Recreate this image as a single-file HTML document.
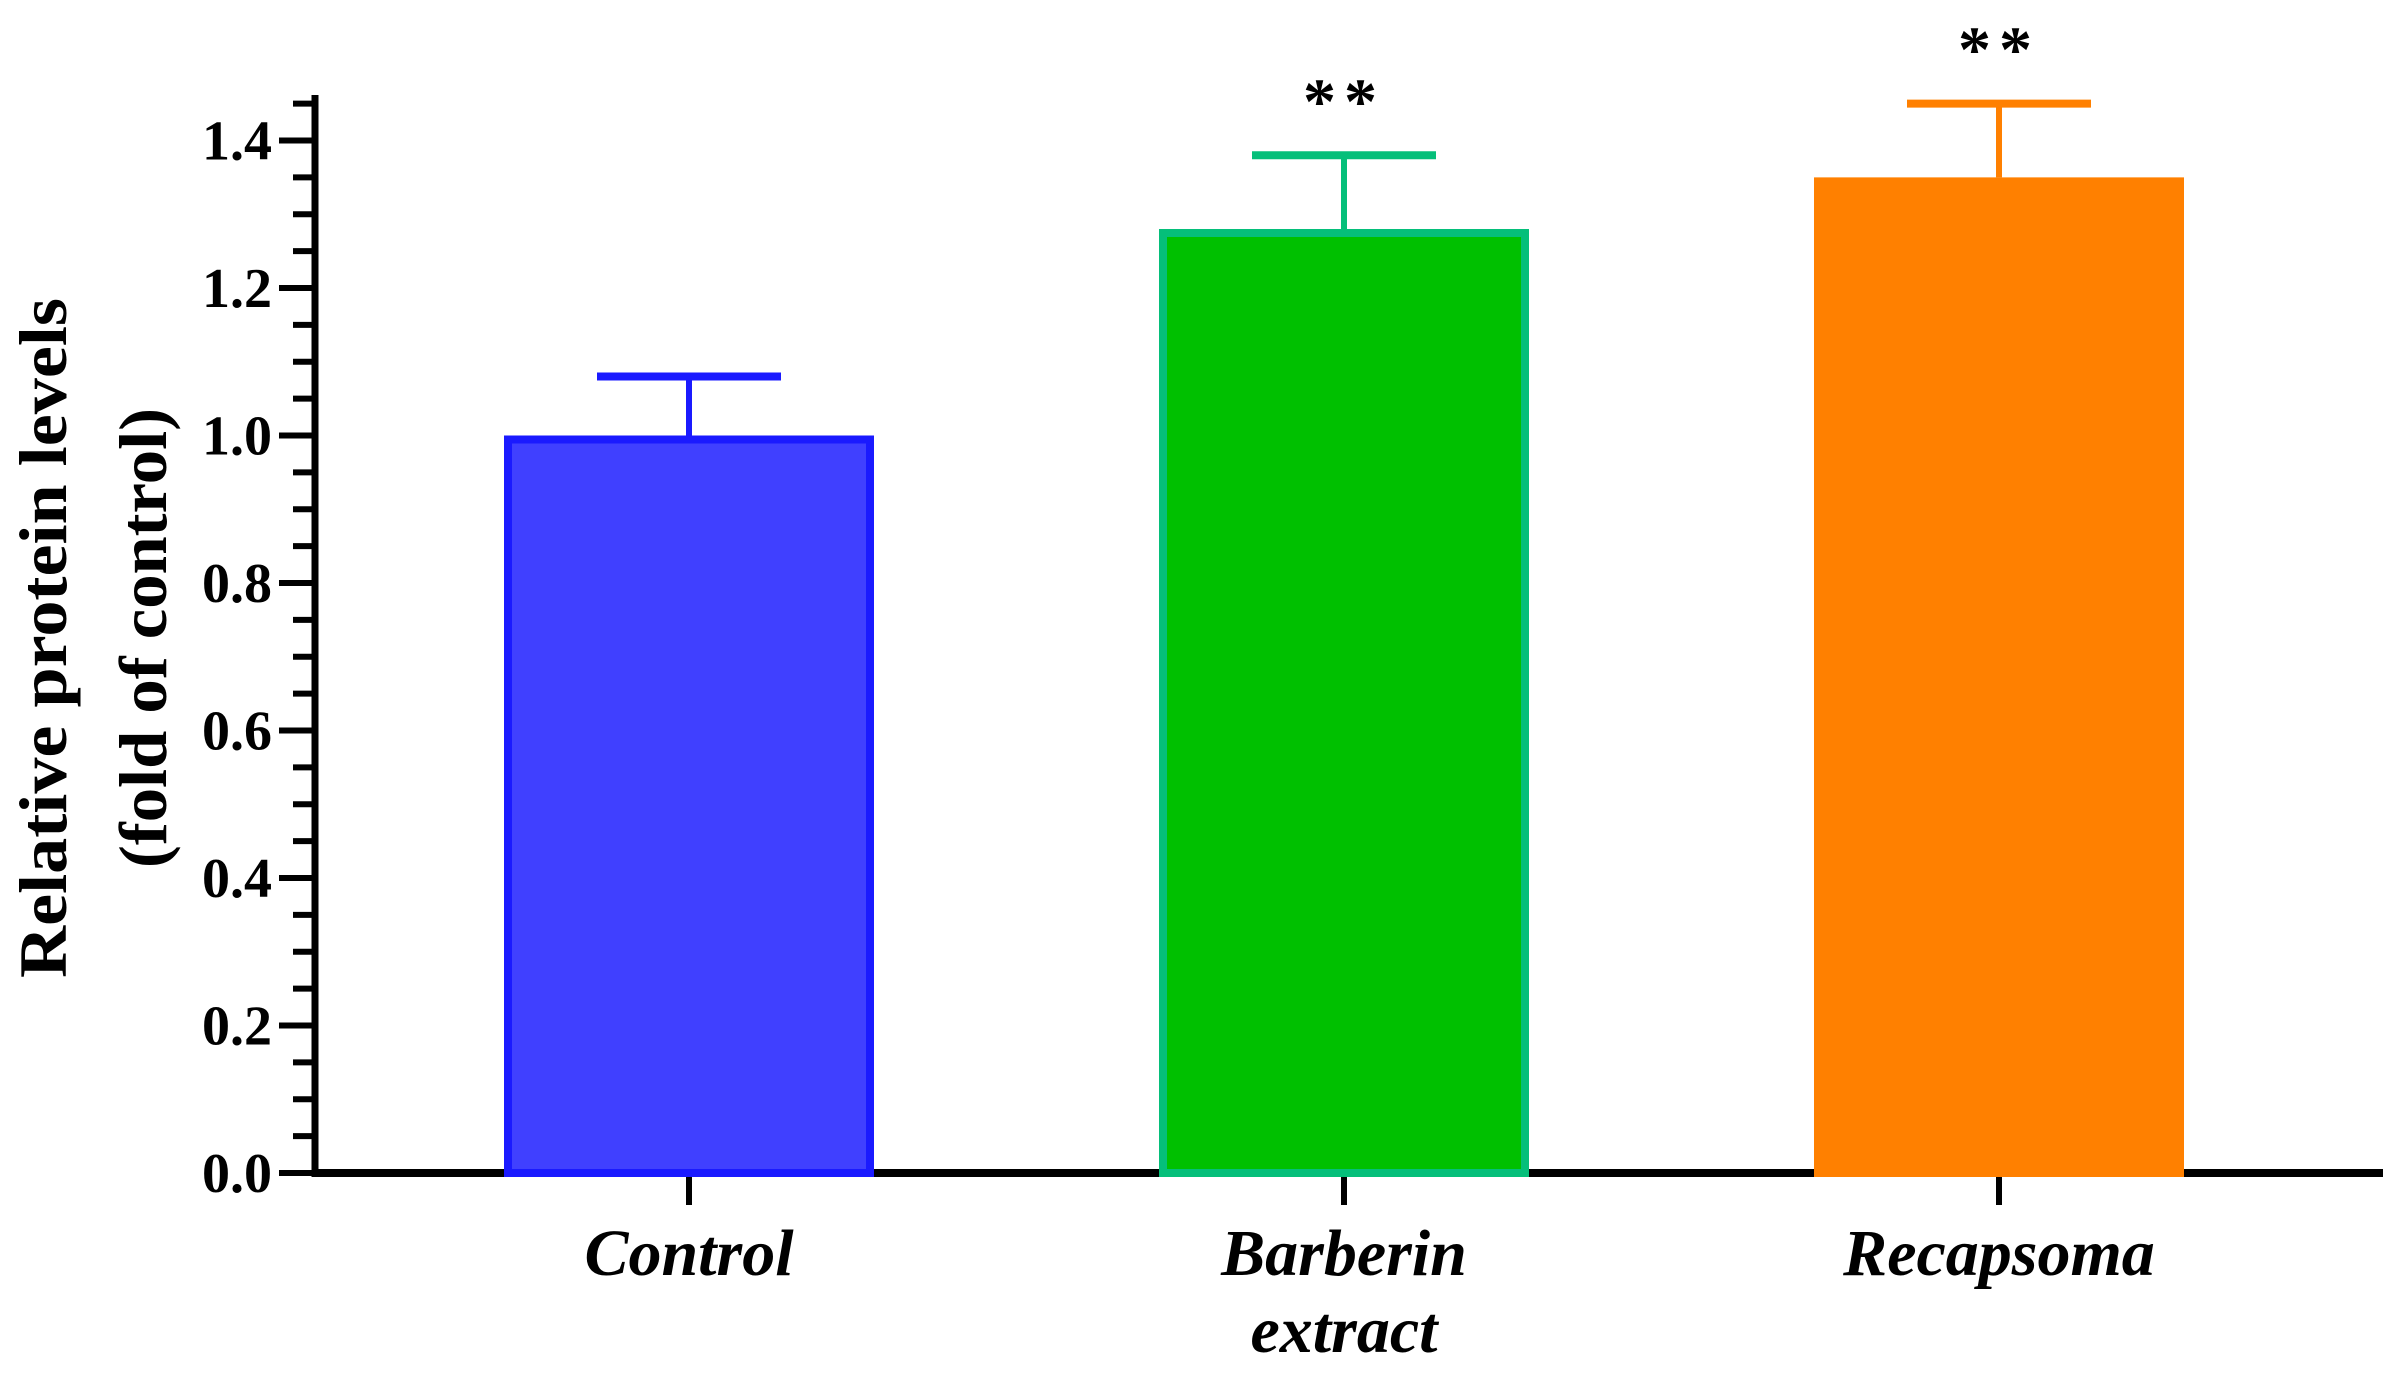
<!DOCTYPE html>
<html><head><meta charset="utf-8"><style>
html,body{margin:0;padding:0;background:#fff;}
svg{display:block;}
text{font-family:"Liberation Serif",serif;font-weight:bold;fill:#000;}
</style></head><body>
<svg id="chart" width="2399" height="1377" viewBox="0 0 2399 1377" xmlns="http://www.w3.org/2000/svg">
<g id="axes"></g>
<g id="bars"></g>
<text transform="translate(66,638) rotate(-90)" text-anchor="middle" font-size="68" textLength="680" lengthAdjust="spacingAndGlyphs">Relative protein levels</text>
<text transform="translate(166,638) rotate(-90)" text-anchor="middle" font-size="68" textLength="460" lengthAdjust="spacingAndGlyphs">(fold of control)</text>
</svg>
<script>
const categories = ["Control", "Barberin|extract", "Recapsoma"];
const values = [1.0, 1.28, 1.35];
const errors = [0.08, 0.10, 0.10];
const significance = ["", "**", "**"];
const yTicks = [0.0, 0.2, 0.4, 0.6, 0.8, 1.0, 1.2, 1.4];
const tickLabels = ["0.0", "0.2", "0.4", "0.6", "0.8", "1.0", "1.2", "1.4"];
const fills = ["#4040ff", "#00c000", "#ff8000"];
const strokes = ["#1a1aff", "#05bf7a", "#ff8000"];

const NS = "http://www.w3.org/2000/svg";
const X0 = 315, Y0 = 1173, PX = 737.5;
const y = v => Y0 - v * PX;
const xc = i => 689 + i * 655;
function mk(tag, attrs, parent){const e=document.createElementNS(NS,tag);for(const k in attrs)e.setAttribute(k,attrs[k]);parent.appendChild(e);return e;}
const axes = document.getElementById('axes');
const bars = document.getElementById('bars');

let yl = mk('line',{x1:X0,y1:95,x2:X0,y2:Y0+4,stroke:'#000','stroke-width':7},axes);


let xl = mk('line',{x1:X0-3,y1:Y0,x2:2383,y2:Y0,stroke:'#000','stroke-width':8},axes);



for (let k = 0; k <= 29; k++) {
  const v = k * 0.05;
  const major = k % 4 === 0;
  const t = mk('line',{x1:X0-(major?36:22),y1:y(v),x2:X0,y2:y(v),stroke:'#000','stroke-width':6},axes);
  
  
}
yTicks.forEach((v,i)=>{
  const t = mk('text',{x:272,y:y(v)+19,'text-anchor':'end','font-size':56},axes);
  t.textContent = tickLabels[i];
  
  
});

categories.forEach((c,i)=>{
  const cx = xc(i), w = 370, top = y(values[i]);
  const r = mk('rect',{x:cx-w/2+4,y:top+4,width:w-8,height:Y0-top-4,fill:fills[i],stroke:strokes[i],'stroke-width':8},bars);
  
  
  const et = y(values[i]+errors[i]);
  const ev = mk('line',{x1:cx,y1:top,x2:cx,y2:et,stroke:strokes[i],'stroke-width':6},bars);
  
  
  const ec = mk('line',{x1:cx-92,y1:et,x2:cx+92,y2:et,stroke:strokes[i],'stroke-width':8},bars);
  
  
  const tk = mk('line',{x1:cx,y1:Y0,x2:cx,y2:Y0+32,stroke:'#000','stroke-width':6},axes);
  
  
  c.split('|').forEach((ln,j)=>{
    const t = mk('text',{x:cx,y:1275+j*77,'text-anchor':'middle','font-size':66,'font-style':'italic'},axes);
    t.textContent = ln;
    
    
  });
  if (significance[i]) {
    const s = mk('text',{x:cx,y:et-32,'text-anchor':'middle','font-size':66,'letter-spacing':'8'},bars);
    s.textContent = significance[i];
    
    
  }
});
</script>
</body></html>
